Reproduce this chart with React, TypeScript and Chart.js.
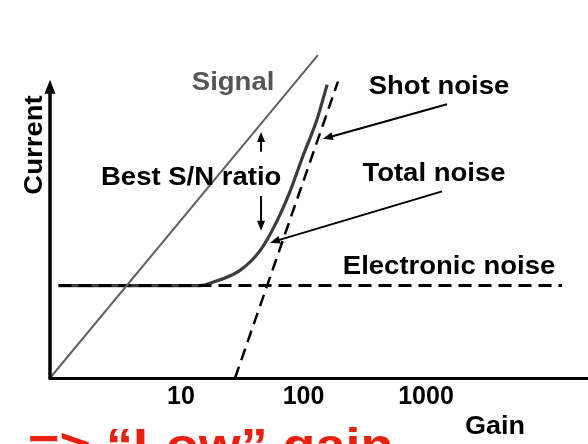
import React, { useEffect, useRef } from "react";
import { Chart, registerables } from "chart.js";

Chart.register(...registerables);

// Axis ranges (gain: log scale, current: arbitrary linear units)
const gainMin = 0.852;
const gainMax = 21000;
const currentMax = 110;
const yAxisTop = 100;
const tickGains = [10, 100, 1000];

// Series
const signalGain = [0.852, 131];
const signalCurrent = [0, 108.3];

const totalGain = [1.0, 14.3, 18.2, 30.3, 44.2, 60.8, 77.6, 99, 129, 156];
const totalCurrent = [31, 31, 32.1, 36.1, 42.7, 52.7, 62.6, 74.5, 86.8, 98.4];

const electronicGain = [1.0, 12880];
const electronicCurrent = [31, 31];

const shotGain = [27.6, 191];
const shotCurrent = [0, 99.4];

// Annotation labels (gain, current at baseline)
const labelTexts = ["Signal", "Best S/N ratio", "Shot noise", "Total noise", "Electronic noise"];
const labelGain = [26.6, 12.1, 1276, 1161, 1541];
const labelCurrent = [96.7, 64.6, 95.1, 65.9, 34.8];
const labelColors = ["#555555", "#000000", "#000000", "#000000", "#000000"];

// Arrows: from (gain, current) to (gain, current)
const arrowFromGain = [1483, 1352, 45, 45];
const arrowFromCurrent = [91.8, 62.6, 75.9, 61.0];
const arrowToGain = [144, 53.3, 45, 45];
const arrowToCurrent = [80.2, 45.4, 82.5, 49.4];

const FONT = '"Liberation Sans", Arial, sans-serif';

function pts(xs: number[], ys: number[]) {
  return xs.map((x, i) => ({ x, y: ys[i] }));
}

function stretchText(ctx: CanvasRenderingContext2D, text: string, x: number, y: number, size: number, color: string, sx = 1.1, rot = 0) {
  ctx.save();
  ctx.translate(x, y);
  if (rot) ctx.rotate(rot);
  ctx.scale(sx, 1);
  ctx.font = `bold ${size}px ${FONT}`;
  ctx.fillStyle = color;
  ctx.textAlign = "center";
  ctx.textBaseline = "alphabetic";
  ctx.fillText(text, 0, 0);
  ctx.restore();
}

function arrowHead(ctx: CanvasRenderingContext2D, x1: number, y1: number, x2: number, y2: number, len: number, half: number) {
  const a = Math.atan2(y2 - y1, x2 - x1);
  ctx.beginPath();
  ctx.moveTo(x2, y2);
  ctx.lineTo(x2 - len * Math.cos(a) + half * Math.sin(a), y2 - len * Math.sin(a) - half * Math.cos(a));
  ctx.lineTo(x2 - len * Math.cos(a) - half * Math.sin(a), y2 - len * Math.sin(a) + half * Math.cos(a));
  ctx.closePath();
  ctx.fill();
}

const decorPlugin = {
  id: "decor",
  afterDatasetsDraw(chart: any) {
    const ctx: CanvasRenderingContext2D = chart.ctx;
    const xs = chart.scales.x;
    const ys = chart.scales.y;
    const area = chart.chartArea;
    ctx.save();
    // y axis with arrow
    const ax = xs.getPixelForValue(gainMin);
    const y0 = ys.getPixelForValue(0);
    const yTop = ys.getPixelForValue(yAxisTop);
    ctx.strokeStyle = "#000";
    ctx.fillStyle = "#000";
    ctx.lineWidth = 3.5;
    ctx.beginPath();
    ctx.moveTo(ax, y0 + 1.5);
    ctx.lineTo(ax, yTop + 10);
    ctx.stroke();
    arrowHead(ctx, ax, y0, ax, yTop, 14, 5.5);

    // arrows
    ctx.lineWidth = 2;
    for (let i = 0; i < arrowFromGain.length; i++) {
      const x1 = xs.getPixelForValue(arrowFromGain[i]);
      const y1 = ys.getPixelForValue(arrowFromCurrent[i]);
      const x2 = xs.getPixelForValue(arrowToGain[i]);
      const y2 = ys.getPixelForValue(arrowToCurrent[i]);
      const a = Math.atan2(y2 - y1, x2 - x1);
      ctx.beginPath();
      ctx.moveTo(x1, y1);
      ctx.lineTo(x2 - 8 * Math.cos(a), y2 - 8 * Math.sin(a));
      ctx.stroke();
      arrowHead(ctx, x1, y1, x2, y2, 10, 4);
    }

    // labels
    for (let i = 0; i < labelTexts.length; i++) {
      stretchText(ctx, labelTexts[i], xs.getPixelForValue(labelGain[i]), ys.getPixelForValue(labelCurrent[i]), 25, labelColors[i]);
    }

    // axis titles
    stretchText(ctx, "Current", area.left - 8, area.top + 95, 25, "#000", 1.1, -Math.PI / 2);
    stretchText(ctx, "Gain", area.left + 445, area.bottom + 56, 25, "#000", 1.08);

    // conclusion (red)
    ctx.save();
    ctx.translate(area.left - 22, area.bottom + 84);
    ctx.scale(1.1, 1);
    ctx.font = `bold 49px ${FONT}`;
    ctx.fillStyle = "#e8200f";
    ctx.textAlign = "left";
    ctx.textBaseline = "alphabetic";
    ctx.fillText("=> \u201cLow\u201d gain", 0, 0);
    ctx.restore();

    ctx.restore();
  },
};

export default function App() {
  const ref = useRef<HTMLCanvasElement>(null);
  useEffect(() => {
    if (!ref.current) return;
    const chart = new Chart(ref.current, {
      type: "line",
      data: {
        datasets: [
          {
            label: "Signal",
            data: pts(signalGain, signalCurrent),
            borderColor: "#626262",
            borderWidth: 2,
            pointRadius: 0,
            clip: false,
          },
          {
            label: "Electronic noise",
            data: pts(electronicGain, electronicCurrent),
            borderColor: "#000",
            borderWidth: 3,
            borderDash: [13, 7],
            pointRadius: 0,
            clip: false,
          },
          {
            label: "Shot noise",
            data: pts(shotGain, shotCurrent),
            borderColor: "#000",
            borderWidth: 2.5,
            borderDash: [12, 7],
            pointRadius: 0,
            clip: false,
          },
          {
            label: "Total noise",
            data: pts(totalGain, totalCurrent),
            borderColor: "#3c3c3c",
            borderWidth: 3.2,
            cubicInterpolationMode: "monotone",
            pointRadius: 0,
            clip: false,
          },
        ],
      } as any,
      options: {
        animation: false,
        responsive: false,
        events: [],
        layout: { padding: { left: 50, right: 0, top: 50, bottom: 28 } },
        plugins: { legend: { display: false }, tooltip: { enabled: false } },
        scales: {
          x: {
            type: "logarithmic",
            min: gainMin,
            max: gainMax,
            afterBuildTicks: (scale: any) => {
              scale.ticks = tickGains.map((v) => ({ value: v }));
            },
            grid: { display: false, drawTicks: false },
            border: { display: true, width: 3, color: "#000" },
            ticks: {
              autoSkip: false,
              maxRotation: 0,
              padding: 4,
              color: "#000",
              font: { family: FONT, size: 25, weight: "bold" },
              callback: (v: any) => String(v),
            },
          },
          y: {
            type: "linear",
            display: false,
            min: 0,
            max: currentMax,
          },
        },
      } as any,
      plugins: [decorPlugin],
    });
    return () => chart.destroy();
  }, []);
  return (
    <div style={{ position: "fixed", left: 0, top: 0, width: 588, height: 444, background: "#fff" }}>
      <canvas ref={ref} width={588} height={444} style={{ display: "block" }} />
    </div>
  );
}
